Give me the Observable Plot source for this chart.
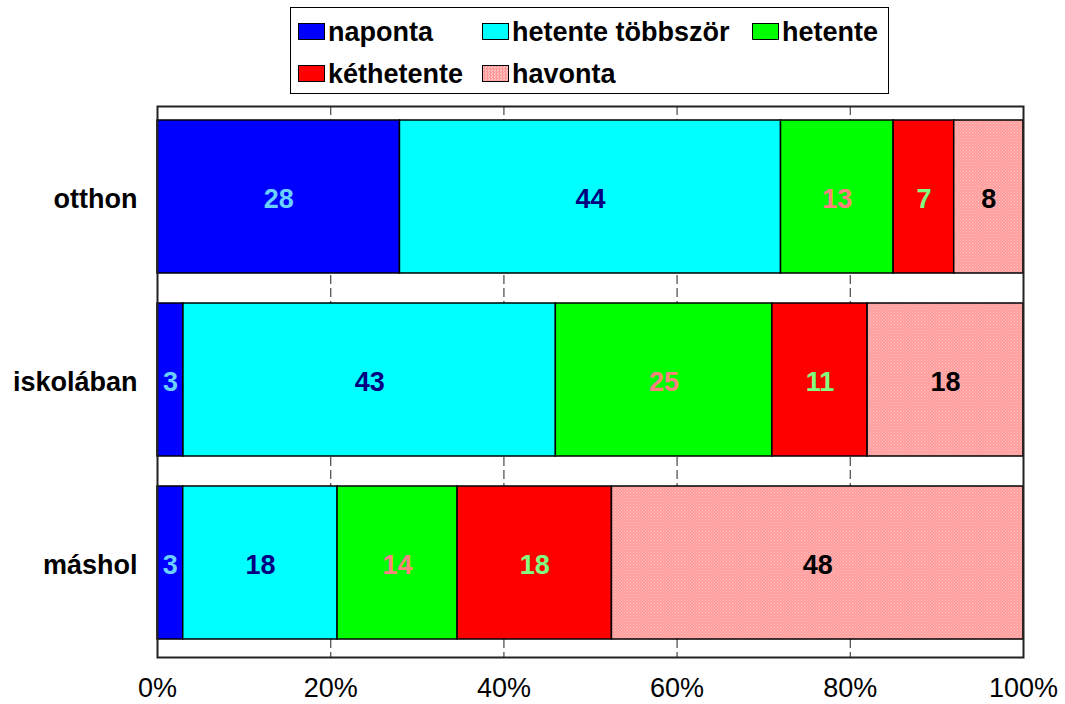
<!DOCTYPE html>
<html>
<head>
<meta charset="utf-8">
<script src="https://cdn.jsdelivr.net/npm/d3@7"></script>
<script src="https://cdn.jsdelivr.net/npm/@observablehq/plot@0.6"></script>
<style>
  html, body { margin: 0; padding: 0; background: #fff; }
  #wrap { position: relative; width: 1065px; height: 704px; font-family: "Liberation Sans", Arial, sans-serif; }
  #legend { position: absolute; left: 290px; top: 7px; width: 597px; height: 85px; border: 1.5px solid #000; background: #fff; box-sizing: content-box; }
  .sw { position: absolute; width: 27px; height: 17px; border: 1px solid #000; box-sizing: border-box; }
  .lt { position: absolute; font-weight: bold; font-size: 27px; line-height: 27px; color: #000; white-space: nowrap; }
</style>
</head>
<body>
<div id="wrap">
  <div id="chart"></div>
  <div id="legend"></div>
</div>
<script>
// Categories and series
const rows = ["otthon", "iskolában", "máshol"];
const series = ["naponta", "hetente többször", "hetente", "kéthetente", "havonta"];
// Values per series (in order of rows)
const naponta = [28, 3, 3];
const hetenteTobbszor = [44, 43, 18];
const hetente = [13, 25, 14];
const kethetente = [7, 11, 18];
const havonta = [8, 18, 48];
// Tick labels
const xTicks = [0, 0.2, 0.4, 0.6, 0.8, 1];
const gridTicks = [0.2, 0.4, 0.6, 0.8];

const seriesValues = [naponta, hetenteTobbszor, hetente, kethetente, havonta];
const fills = ["#0000ff", "#00ffff", "#00ff00", "#ff0000", "url(#havontaPat)"];
const labelColors = ["#6cd0ff", "#000080", "#ff8080", "#80ff80", "#000000"];

const data = [];
series.forEach((s, si) => rows.forEach((r, ri) => data.push({row: r, series: s, value: seriesValues[si][ri]})));

const stackOpts = {offset: "normalize", order: null};

const textMarks = series.map((s, si) =>
  Plot.text(data, Plot.stackX({
    ...stackOpts,
    x: "value", y: "row", z: "series",
    text: d => d.series === s ? String(d.value) : "",
    fill: labelColors[si],
    fontWeight: "bold", fontSize: 27, dy: 2,
    textAnchor: "middle", lineAnchor: "middle"
  }))
);

const chart = Plot.plot({
  width: 1065,
  height: 704,
  marginLeft: 157,
  marginRight: 42,
  marginTop: 106,
  marginBottom: 47,
  style: {fontFamily: "Liberation Sans, Arial, sans-serif", fontSize: "27px", background: "transparent", color: "#000"},
  x: {domain: [0, 1]},
  y: {domain: rows, paddingInner: 0.163, paddingOuter: 0.0788, align: 0.448},
  color: {domain: series, range: fills},
  marks: [
    Plot.ruleX(gridTicks, {stroke: "#555", strokeWidth: 1.3, strokeDasharray: "9,4"}),
    Plot.barX(data, Plot.stackX({
      ...stackOpts,
      x: "value", y: "row", z: "series", fill: "series",
      stroke: "#000", strokeWidth: 1.5, inset: 0
    })),
    ...textMarks,
    Plot.frame({stroke: "#222", strokeWidth: 2}),
    Plot.axisX({ticks: xTicks, tickFormat: d => Math.round(d * 100) + "%", tickSize: 0, tickPadding: 20, fontSize: 27, label: null}),
    Plot.axisY({tickSize: 0, tickPadding: 20, fontSize: 27, fontWeight: "bold", dy: 2, label: null})
  ]
});

// Pattern for "havonta" fill
const ns = "http://www.w3.org/2000/svg";
const defs = document.createElementNS(ns, "defs");
defs.innerHTML = '<pattern id="havontaPat" patternUnits="userSpaceOnUse" width="3" height="3">' +
  '<rect width="3" height="3" fill="#ff9c9c"/>' +
  '<rect x="0" y="0" width="1" height="1" fill="#ffc4c4"/>' +
  '<rect x="1.5" y="1.5" width="1" height="1" fill="#ffc4c4"/></pattern>';
chart.insertBefore(defs, chart.firstChild);
document.getElementById("chart").appendChild(chart);

// Legend (positions relative to the legend box)
const swPos = [[7, 14.5], [191, 14.5], [461, 14.5], [7, 56.5], [191, 56.5]];
const swatchCss = [
  "background:#0000ff", "background:#00ffff", "background:#00ff00", "background:#ff0000",
  "background:#ffa3a3 repeating-conic-gradient(#ff9696 0 25%, #ffc0c0 0 50%) 0 0/3px 3px"
];
const legend = document.getElementById("legend");
series.forEach((s, i) => {
  const [lx, ly] = swPos[i];
  const sw = document.createElement("div");
  sw.className = "sw";
  sw.style.cssText += ";left:" + lx + "px;top:" + ly + "px;" + swatchCss[i];
  legend.appendChild(sw);
  const t = document.createElement("div");
  t.className = "lt";
  t.style.left = (lx + 30) + "px";
  t.style.top = (ly - 4) + "px";
  t.textContent = s;
  legend.appendChild(t);
});
</script>
</body>
</html>
